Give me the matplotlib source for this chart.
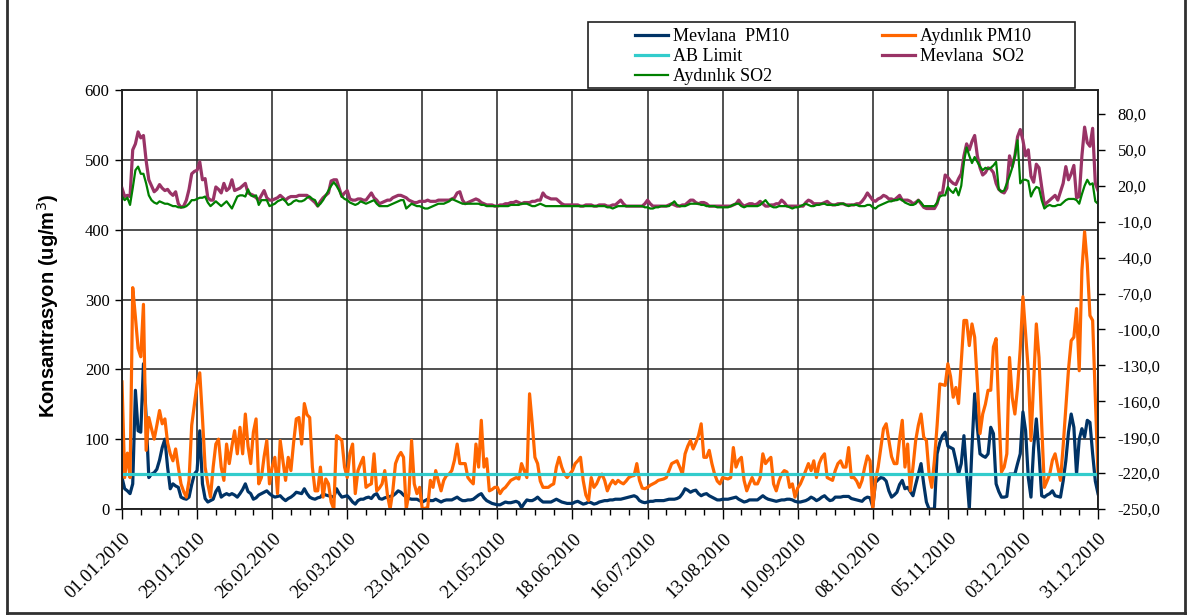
import matplotlib
matplotlib.use("Agg")
import matplotlib.pyplot as plt
import matplotlib.dates as mdates
from matplotlib.patches import Rectangle
from matplotlib.lines import Line2D
import numpy as np
import pandas as pd

# daily values, 01.01.2010 - 31.12.2010 (14 days per row)
mevlana_pm10 = [
    45, 29, 26, 22, 36, 170, 112, 110, 208, 131, 45, 50, 52, 57,
    70, 88, 100, 60, 29, 36, 33, 31, 17, 15, 14, 17, 35, 50,
    55, 112, 36, 15, 10, 12, 14, 25, 31, 17, 20, 22, 20, 22,
    20, 17, 22, 28, 36, 25, 22, 14, 16, 20, 22, 24, 26, 22,
    19, 17, 18, 19, 15, 12, 15, 17, 20, 24, 23, 22, 29, 22,
    17, 15, 14, 16, 17, 22, 20, 19, 18, 17, 29, 22, 17, 18,
    19, 15, 10, 7, 12, 14, 14, 16, 17, 15, 20, 22, 15, 14,
    16, 17, 18, 19, 22, 26, 24, 20, 17, 15, 14, 14, 14, 12,
    10, 12, 14, 12, 12, 14, 12, 10, 12, 13, 13, 13, 15, 17,
    14, 12, 12, 13, 13, 14, 17, 20, 22, 16, 12, 10, 8, 7,
    6, 6, 8, 10, 9, 9, 10, 11, 9, 2, 8, 13, 12, 12,
    14, 17, 13, 10, 10, 10, 10, 12, 14, 12, 10, 9, 8, 8,
    8, 10, 11, 9, 7, 8, 10, 9, 7, 8, 10, 11, 12, 12,
    13, 13, 14, 14, 14, 15, 16, 17, 18, 19, 17, 12, 10, 9,
    10, 11, 11, 12, 12, 12, 12, 13, 14, 14, 14, 15, 17, 22,
    29, 27, 24, 26, 27, 22, 19, 21, 22, 19, 17, 15, 13, 13,
    14, 14, 14, 15, 16, 17, 14, 12, 10, 11, 13, 13, 13, 13,
    16, 19, 16, 14, 13, 12, 11, 12, 13, 13, 14, 14, 13, 11,
    10, 10, 11, 12, 14, 17, 15, 12, 14, 17, 19, 15, 12, 13,
    17, 17, 17, 18, 18, 18, 15, 14, 13, 12, 11, 15, 17, 16,
    3, 38, 42, 45, 44, 40, 26, 17, 20, 24, 35, 41, 29, 31,
    25, 19, 35, 50, 65, 36, 10, 0, 0, 0, 79, 95, 105, 110,
    90, 88, 86, 69, 50, 65, 105, 50, 0, 88, 165, 117, 79, 76,
    74, 79, 117, 108, 36, 25, 17, 17, 18, 50, 50, 50, 65, 79,
    139, 112, 45, 17, 88, 129, 79, 19, 17, 20, 22, 26, 19, 18,
    17, 40, 69, 110, 136, 117, 50, 100, 115, 103, 127, 124, 79, 40,
    22,
]

aydinlik_pm10 = [
    182, 45, 80, 45, 317, 275, 230, 218, 293, 84, 131, 115, 100, 120,
    141, 122, 129, 95, 79, 69, 86, 60, 36, 25, 17, 41, 120, 150,
    179, 195, 131, 60, 36, 17, 60, 93, 100, 60, 41, 93, 65, 90,
    112, 79, 117, 79, 136, 90, 65, 110, 129, 36, 45, 75, 98, 36,
    60, 74, 22, 98, 70, 41, 74, 55, 95, 129, 131, 93, 151, 135,
    131, 60, 26, 26, 60, 17, 43, 36, 10, 0, 105, 102, 98, 60,
    45, 80, 93, 22, 55, 65, 74, 31, 34, 36, 79, 26, 30, 36,
    55, 20, 0, 26, 65, 75, 81, 74, 0, 22, 98, 36, 22, 31,
    0, 1, 2, 41, 31, 55, 40, 26, 41, 48, 50, 55, 70, 93,
    65, 65, 65, 45, 40, 36, 93, 60, 127, 60, 72, 26, 28, 31,
    31, 22, 28, 31, 36, 41, 43, 45, 43, 65, 55, 45, 165, 122,
    74, 65, 40, 31, 31, 31, 34, 36, 60, 74, 60, 50, 45, 50,
    55, 65, 69, 74, 41, 20, 12, 45, 31, 36, 45, 50, 41, 26,
    35, 41, 36, 41, 38, 36, 40, 45, 47, 48, 65, 41, 30, 29,
    31, 34, 36, 38, 41, 42, 43, 45, 55, 65, 67, 69, 60, 50,
    79, 90, 98, 86, 95, 105, 122, 74, 74, 84, 65, 50, 40, 36,
    45, 44, 43, 45, 88, 60, 70, 74, 41, 26, 36, 45, 36, 36,
    45, 79, 65, 70, 74, 36, 26, 40, 50, 55, 53, 31, 36, 17,
    30, 36, 45, 55, 65, 55, 69, 45, 65, 74, 79, 45, 43, 41,
    55, 65, 69, 60, 60, 88, 45, 45, 40, 31, 41, 60, 76, 69,
    0, 41, 60, 88, 115, 122, 98, 75, 65, 65, 100, 127, 60, 93,
    26, 60, 98, 120, 136, 103, 98, 50, 31, 70, 120, 179, 178, 177,
    208, 190, 160, 174, 151, 210, 270, 270, 234, 265, 246, 180, 108, 136,
    150, 170, 170, 232, 244, 141, 53, 60, 79, 217, 160, 136, 174, 229,
    304, 250, 198, 98, 180, 265, 217, 120, 31, 40, 50, 70, 79, 60,
    41, 90, 146, 200, 241, 246, 287, 198, 342, 397, 351, 277, 270, 160,
    50,
]

ab_limit = 50

mevlana_so2 = [
    18, 11, 12, 11, 50, 55, 65, 60, 62, 41, 25, 20, 15, 17,
    21, 18, 16, 17, 14, 12, 15, 5, 2, 3, 8, 17, 30, 32,
    33, 40, 25, 26, 10, 8, 8, 19, 17, 14, 22, 16, 18, 25,
    16, 17, 18, 20, 22, 14, 13, 12, 10, 8, 12, 16, 10, 8,
    8, 9, 10, 12, 10, 8, 10, 11, 11, 11, 12, 12, 12, 12,
    10, 8, 6, 3, 7, 10, 12, 14, 24, 25, 25, 18, 11, 14,
    16, 9, 8, 8, 9, 9, 8, 8, 11, 14, 10, 8, 5, 6,
    7, 8, 8, 10, 11, 12, 12, 11, 10, 8, 7, 6, 6, 7,
    7, 7, 8, 7, 7, 7, 8, 8, 8, 8, 8, 9, 10, 14,
    15, 8, 5, 6, 7, 8, 9, 8, 6, 5, 4, 4, 4, 3,
    3, 4, 4, 5, 5, 6, 6, 7, 6, 5, 6, 6, 6, 7,
    7, 8, 8, 14, 11, 10, 9, 9, 9, 7, 5, 4, 4, 4,
    4, 4, 4, 3, 3, 4, 4, 4, 3, 3, 4, 4, 4, 3,
    3, 4, 4, 6, 8, 5, 3, 3, 3, 3, 3, 3, 3, 5,
    8, 5, 3, 3, 3, 3, 3, 3, 4, 5, 4, 3, 3, 4,
    4, 6, 8, 8, 6, 5, 6, 6, 5, 3, 3, 3, 3, 3,
    3, 3, 3, 3, 4, 5, 8, 5, 3, 4, 5, 5, 4, 5,
    7, 5, 3, 3, 4, 4, 5, 5, 8, 6, 3, 3, 3, 3,
    3, 3, 3, 6, 8, 7, 5, 5, 5, 5, 6, 7, 5, 4,
    4, 5, 5, 5, 4, 4, 4, 4, 5, 5, 7, 10, 14, 11,
    8, 7, 9, 10, 12, 11, 9, 9, 8, 10, 12, 8, 8, 8,
    7, 5, 6, 8, 5, 2, 1, 1, 1, 1, 5, 14, 14, 29,
    27, 24, 22, 21, 26, 30, 45, 55, 50, 57, 62, 45, 35, 29,
    31, 35, 34, 31, 22, 17, 15, 14, 18, 45, 36, 45, 61, 67,
    58, 45, 50, 28, 23, 38, 35, 19, 4, 6, 8, 10, 12, 8,
    15, 22, 36, 25, 30, 37, 10, 11, 45, 69, 56, 53, 68, 22,
    16,
]

aydinlik_so2 = [
    11, 8, 10, 4, 18, 33, 36, 30, 30, 22, 12, 8, 6, 5,
    7, 6, 5, 5, 4, 3, 3, 2, 2, 2, 3, 5, 8, 8,
    9, 10, 10, 11, 6, 3, 5, 7, 5, 3, 5, 7, 4, 1,
    6, 11, 12, 12, 11, 17, 12, 11, 12, 4, 8, 8, 8, 3,
    4, 5, 7, 8, 9, 7, 4, 5, 7, 8, 7, 7, 8, 10,
    11, 9, 8, 3, 5, 8, 12, 16, 20, 23, 20, 16, 11, 9,
    8, 6, 5, 4, 5, 7, 6, 5, 6, 7, 8, 5, 3, 3,
    3, 3, 4, 5, 6, 7, 8, 8, 1, 3, 5, 4, 3, 3,
    2, 1, 1, 2, 3, 4, 5, 5, 5, 6, 7, 9, 8, 7,
    6, 5, 5, 5, 5, 5, 5, 5, 4, 4, 3, 3, 3, 3,
    3, 3, 3, 3, 3, 4, 4, 4, 4, 5, 5, 5, 4, 3,
    3, 4, 5, 4, 3, 3, 3, 3, 3, 3, 3, 3, 3, 3,
    3, 3, 3, 3, 3, 3, 3, 3, 3, 3, 3, 3, 3, 2,
    2, 1, 2, 3, 3, 3, 3, 3, 3, 3, 3, 3, 3, 2,
    2, 1, 1, 2, 2, 3, 3, 3, 3, 5, 7, 4, 3, 3,
    3, 4, 5, 5, 5, 5, 4, 4, 3, 3, 3, 3, 2, 2,
    2, 2, 2, 3, 4, 5, 5, 3, 2, 3, 3, 3, 3, 3,
    4, 6, 8, 5, 3, 2, 2, 3, 3, 3, 3, 2, 1, 2,
    2, 3, 4, 5, 4, 3, 3, 4, 4, 5, 5, 4, 4, 4,
    4, 4, 5, 5, 4, 3, 4, 4, 4, 3, 3, 3, 4, 4,
    2, 1, 3, 4, 5, 6, 7, 7, 8, 8, 9, 8, 6, 5,
    4, 4, 5, 8, 6, 3, 3, 3, 3, 3, 6, 11, 12, 12,
    19, 16, 14, 18, 12, 20, 40, 52, 45, 39, 44, 40, 36, 33,
    35, 34, 35, 37, 40, 17, 15, 16, 22, 28, 35, 45, 58, 22,
    25, 25, 24, 11, 16, 19, 18, 8, 1, 3, 4, 3, 3, 4,
    4, 6, 8, 9, 9, 9, 8, 5, 13, 20, 25, 21, 22, 7,
    5,
]

dates = pd.date_range("2010-01-01", "2010-12-31", freq="D")
tick_dates = pd.date_range("2010-01-01", periods=14, freq="28D")
left_ticks = [0, 100, 200, 300, 400, 500, 600]
right_ticks = [-250, -220, -190, -160, -130, -100, -70, -40, -10, 20, 50, 80]

serif = "Liberation Serif"

fig = plt.figure(figsize=(11.89, 6.16), dpi=100)
ax = fig.add_axes([122 / 1189, 1 - 509 / 616, 976 / 1189, 419 / 616])

l1, = ax.plot(dates, mevlana_pm10, color="#003366", lw=2.3, label="Mevlana  PM10")
l2, = ax.plot(dates, aydinlik_pm10, color="#FF6600", lw=2.3, label="Aydınlık PM10")
l3, = ax.plot(dates, [ab_limit] * len(dates), color="#33CCCC", lw=2.3, label="AB Limit")

ax.set_xlim(dates[0], dates[-1])
ax.set_ylim(0, 600)
ax.set_yticks(left_ticks)
ax.set_xticks(tick_dates)
ax.xaxis.set_major_formatter(mdates.DateFormatter("%d.%m.%Y"))
ax.set_xticks(pd.date_range("2010-01-01", "2010-12-31", freq="7D"), minor=True)
ax.grid(True, which="major", color="#202020", lw=1.1)
ax.set_axisbelow(True)
ax.tick_params(axis="x", which="major", length=7, width=1, direction="out", pad=8)
ax.tick_params(axis="x", which="minor", length=4, width=1, direction="out")
ax.tick_params(axis="y", length=5, width=1, direction="out", pad=4)
ax.tick_params(axis="y", labelsize=12)
ax.tick_params(axis="x", labelsize=13.5)
for lab in ax.get_xticklabels():
    lab.set_rotation(45)
    lab.set_ha("right")
    lab.set_rotation_mode("anchor")
for lab in ax.get_xticklabels() + ax.get_yticklabels():
    lab.set_family(serif)
ax.set_ylabel("Konsantrasyon (ug/m$^3$)", family="Liberation Sans",
              fontweight="bold", fontsize=14.5)
ax.yaxis.set_label_coords(-0.062, 0.485)
for s in ax.spines.values():
    s.set_color("#202020")
    s.set_linewidth(1.1)

ax2 = ax.twinx()
l4, = ax2.plot(dates, mevlana_so2, color="#993366", lw=2.3, label="Mevlana  SO2")
l5, = ax2.plot(dates, aydinlik_so2, color="#008000", lw=1.6, label="Aydınlık SO2")
ax2.set_ylim(-250, 100)
ax2.set_yticks(right_ticks)
ax2.set_yticklabels([f"{v:.1f}".replace(".", ",") for v in right_ticks],
                    family=serif, fontsize=12)
ax2.tick_params(axis="y", length=5, width=1, direction="out", pad=9)
for s in ax2.spines.values():
    s.set_color("#202020")
    s.set_linewidth(1.1)

# legend: row-major order in two columns
handles = [l1, l3, l5, l2, l4]
fig.legend(handles, [h.get_label() for h in handles], ncol=2, frameon=False,
           loc="upper left", bbox_to_anchor=(635 / 1189, 1 - 28 / 616),
           prop={"family": serif, "size": 13}, handlelength=1.85,
           handletextpad=0.28, columnspacing=5.1, labelspacing=0.17,
           borderpad=0, borderaxespad=0)
fig.patches.append(Rectangle((588 / 1189, 1 - 88 / 616), 487 / 1189, 66 / 616,
                             transform=fig.transFigure, fill=False,
                             edgecolor="#202020", lw=1.2))

# chart area border
for xs, ys in [([7, 7], [0, 613]), ([7, 1185], [613, 613]), ([1185, 1185], [0, 613])]:
    fig.lines.append(Line2D([x / 1189 for x in xs], [1 - y / 616 for y in ys],
                            transform=fig.transFigure, color="#303030", lw=2))

fig.savefig("out.png", dpi=100)
